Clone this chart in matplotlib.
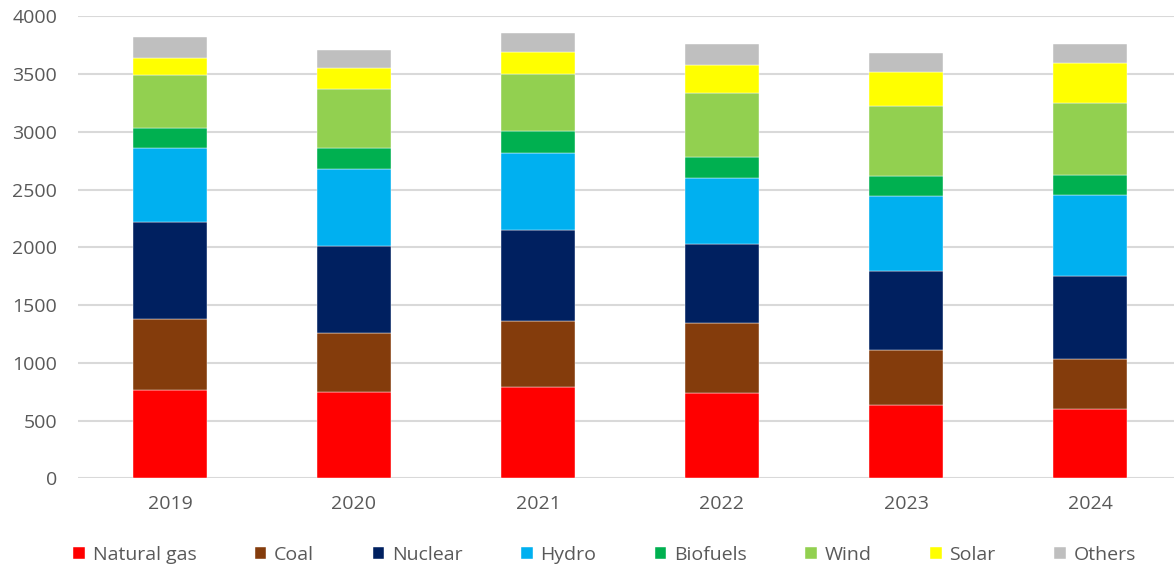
import numpy as np
import matplotlib
matplotlib.use("Agg")
import matplotlib.pyplot as plt

years = ["2019", "2020", "2021", "2022", "2023", "2024"]
sources = ["Natural gas", "Coal", "Nuclear", "Hydro", "Biofuels", "Wind", "Solar", "Others"]

natural_gas = [763, 749, 789, 740, 633, 599]
coal = [615, 508, 571, 608, 482, 438]
nuclear = [844, 755, 793, 681, 683, 713]
hydro = [638, 669, 661, 572, 647, 701]
biofuels = [173, 182, 191, 184, 173, 176]
wind = [459, 510, 498, 554, 606, 623]
solar = [150, 177, 191, 242, 296, 346]
others = [176, 158, 164, 179, 165, 164]

colors = ["#FF0000", "#843C0C", "#002060", "#00B0F0", "#00B050", "#92D050", "#FFFF00", "#BFBFBF"]

plt.rcParams['font.family'] = ['Open Sans', 'DejaVu Sans']

fig = plt.figure(figsize=(11.74, 5.67), dpi=100)
ax = fig.add_axes([0.0664, 0.1561, 0.9404, 0.8152])

x = np.arange(len(years))
bottom = np.zeros(len(years))
for name, vals, c in zip(sources, [natural_gas, coal, nuclear, hydro, biofuels, wind, solar, others], colors):
    ax.bar(x, vals, 0.4, bottom=bottom, color=c, label=name, zorder=3,
           edgecolor="white", linewidth=0.3)
    bottom += np.array(vals)

ax.set_xlim(-0.5, 5.5)
ax.set_ylim(0, 4000)
ax.set_yticks(range(0, 4001, 500))
ax.set_xticks(x)
ax.set_xticklabels(years)
ax.grid(axis="y", color="#D9D9D9", linewidth=1.5, zorder=0)
for s in ax.spines.values():
    s.set_visible(False)
ax.tick_params(length=0, labelsize=14, colors="#595959")
ax.tick_params(axis="x", pad=12)
ax.tick_params(axis="y", pad=15)

ax.legend(loc="center", bbox_to_anchor=(0.477, -0.1655), ncol=8, frameon=False,
          fontsize=14, handlelength=0.6, handleheight=0.6, handletextpad=0.4,
          columnspacing=3.0, labelcolor="#595959", borderaxespad=0)

fig.savefig("out.png", dpi=100)
